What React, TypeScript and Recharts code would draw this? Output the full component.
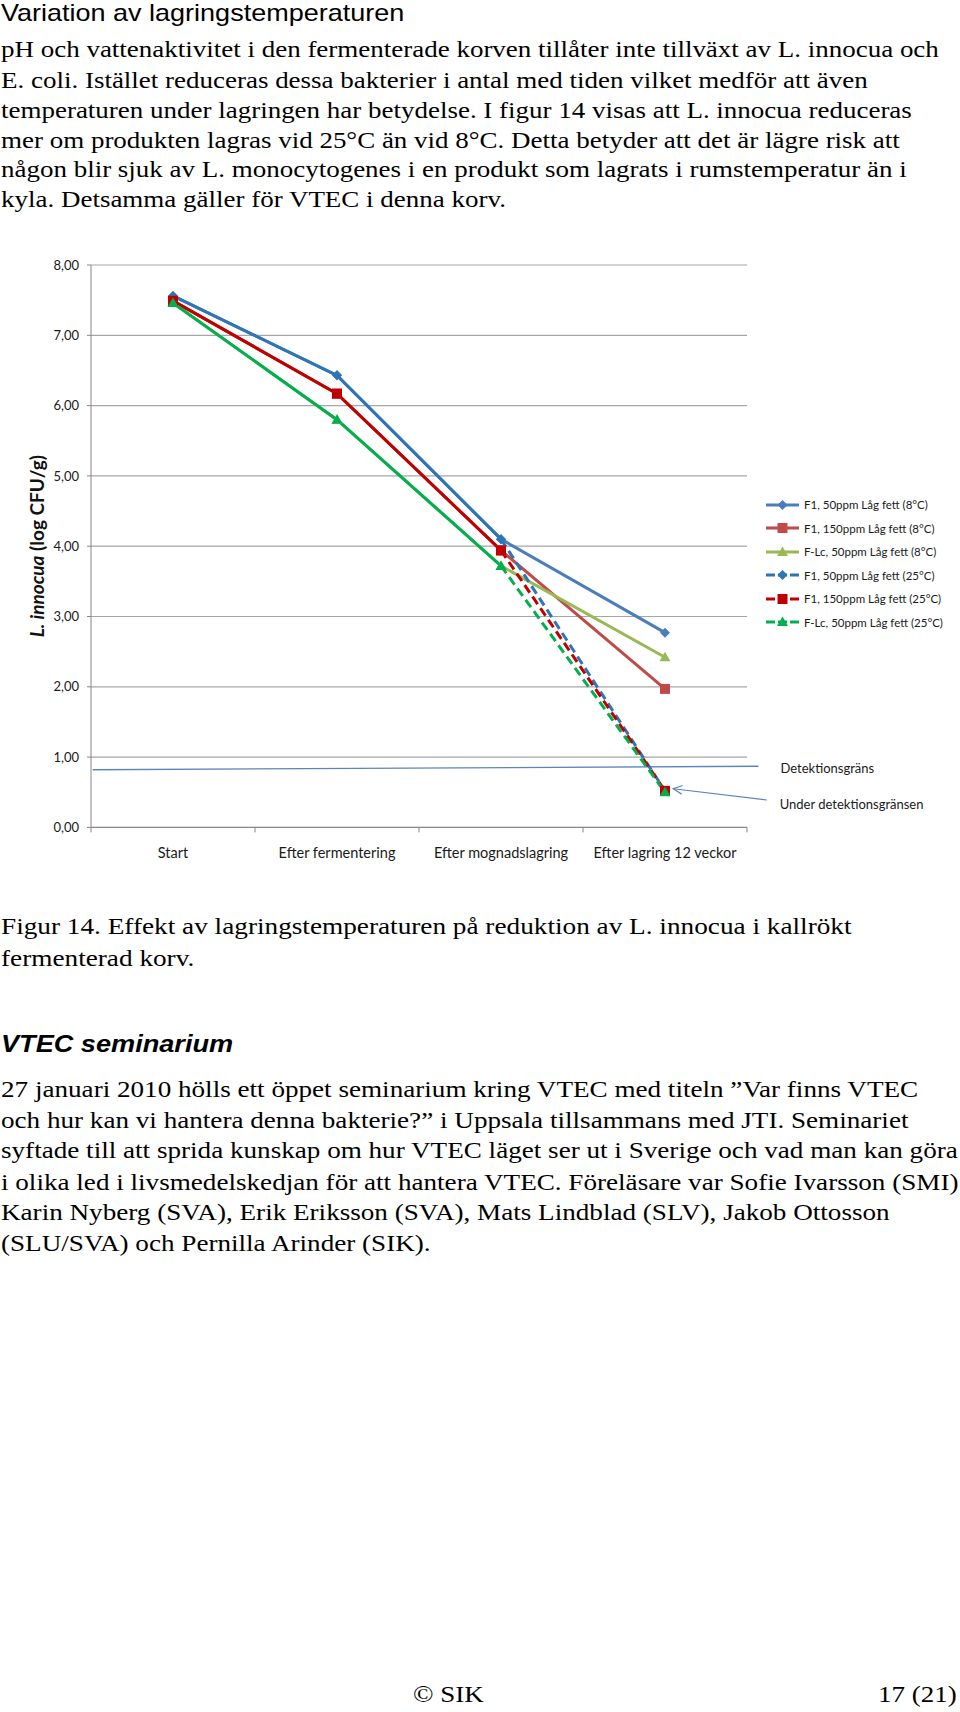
import { LineChart, Line, XAxis, YAxis, CartesianGrid, ReferenceLine, Label } from "recharts";

// categories on the x axis
const categories = ["Start", "Efter fermentering", "Efter mognadslagring", "Efter lagring 12 veckor"];

// L. innocua (log CFU/g), 8°C storage
const f1_50_8 = [7.56, 6.43, 4.1, 2.77];
const f1_150_8 = [7.49, 6.17, 3.94, 1.97];
const flc_50_8 = [7.46, 5.8, 3.72, 2.42];

// same products stored at 25°C
const f1_50_25 = [7.56, 6.43, 4.1, 0.52];
const f1_150_25 = [7.49, 6.17, 3.94, 0.52];
const flc_50_25 = [7.46, 5.8, 3.72, 0.5];

const seriesNames = [
  "F1, 50ppm Låg fett (8°C)",
  "F1, 150ppm Låg fett (8°C)",
  "F-Lc, 50ppm Låg fett (8°C)",
  "F1, 50ppm Låg fett (25°C)",
  "F1, 150ppm Låg fett (25°C)",
  "F-Lc, 50ppm Låg fett (25°C)",
];

const yTicks = [0, 1, 2, 3, 4, 5, 6, 7, 8];

// detection limit line and the arrow to the points below it (data coords)
const detectionLimit = [{ x: 0.01, y: 0.82 }, { x: 4.07, y: 0.87 }];
const belowLimitArrow = [{ x: 4.12, y: 0.39 }, { x: 3.55, y: 0.55 }];

const C = {
  blue8: "#4a7ebb",
  red8: "#be4b48",
  green8: "#98b954",
  blue25: "#2e75b6",
  red25: "#c00000",
  green25: "#00b050",
  axis: "#868686",
  grid: "#a6a6a6",
  note: "#5b85bd",
};

// 25°C: solid up to mognadslagring, dashed for the last storage step
const data = categories.map((name, i) => ({
  x: i + 0.5,
  name,
  a8: f1_50_8[i],
  b8: f1_150_8[i],
  c8: flc_50_8[i],
  a25: i <= 2 ? f1_50_25[i] : null,
  b25: i <= 2 ? f1_150_25[i] : null,
  c25: i <= 2 ? flc_50_25[i] : null,
  a25d: i >= 2 ? f1_50_25[i] : null,
  b25d: i >= 2 ? f1_150_25[i] : null,
  c25d: i >= 2 ? flc_50_25[i] : null,
}));

const chartFont = "Lato, 'Open Sans', sans-serif";

const markerPath = (kind: string, cx: number, cy: number) => {
  if (kind === "diamond") return `M${cx},${cy - 5}L${cx + 5},${cy}L${cx},${cy + 5}L${cx - 5},${cy}Z`;
  if (kind === "square") return `M${cx - 5},${cy - 5}h10v10h-10Z`;
  return `M${cx},${cy - 5.5}L${cx + 5.5},${cy + 4}L${cx - 5.5},${cy + 4}Z`;
};

const makeDot = (kind: string, color: string, onlyLast = false) => (p: any) => {
  if (p.cy == null || p.cx == null || (onlyLast && p.index !== categories.length - 1)) {
    return <g key={`d-${kind}-${p.index}`} />;
  }
  return <path key={`d-${kind}-${p.index}`} d={markerPath(kind, p.cx, p.cy)} fill={color} />;
};

const XTick = (p: any) => {
  const v = p.payload.value;
  if (Number.isInteger(v)) {
    return <line x1={p.x} x2={p.x} y1={p.y} y2={p.y + 5} stroke={C.axis} strokeWidth={1} />;
  }
  return (
    <text x={p.x} y={p.y + 25} textAnchor="middle" dominantBaseline="central" fontSize={14.5} fontFamily={chartFont} fill="#1a1a1a">
      {categories[Math.floor(v)]}
    </text>
  );
};

const YLabel = (p: any) => {
  const vb = p.viewBox || { x: 0, y: 35, width: 91, height: 562 };
  const cx = 36;
  const cy = vb.y + vb.height / 2;
  return (
    <text x={cx} y={cy} transform={`rotate(-90 ${cx} ${cy})`} textAnchor="middle" dominantBaseline="central" fontSize={19} fontWeight="bold" fontFamily={chartFont} fill="#111">
      <tspan fontStyle="italic">L. innocua</tspan>
      <tspan>{" (log CFU/g)"}</tspan>
    </text>
  );
};

const DetectionShape = (p: any) => (
  <g>
    <line x1={p.x1} y1={p.y1} x2={p.x2} y2={p.y2} stroke={C.note} strokeWidth={1.3} />
    <text x={p.x2 + 22} y={p.y2 + 2} dominantBaseline="central" fontSize={13} fontFamily={chartFont} fill="#1a1a1a">
      Detektionsgräns
    </text>
  </g>
);

const ArrowShape = (p: any) => {
  const ang = Math.atan2(p.y2 - p.y1, p.x2 - p.x1);
  const len = 10;
  const wing = 0.45;
  const ax = p.x2 - len * Math.cos(ang - wing);
  const ay = p.y2 - len * Math.sin(ang - wing);
  const bx = p.x2 - len * Math.cos(ang + wing);
  const by = p.y2 - len * Math.sin(ang + wing);
  return (
    <g>
      <line x1={p.x1} y1={p.y1} x2={p.x2} y2={p.y2} stroke={C.note} strokeWidth={1.2} />
      <polyline points={`${ax},${ay} ${p.x2},${p.y2} ${bx},${by}`} fill="none" stroke={C.note} strokeWidth={1.2} />
      <text x={p.x1 + 13} y={p.y1 + 4} dominantBaseline="central" fontSize={13} fontFamily={chartFont} fill="#1a1a1a">
        Under detektionsgränsen
      </text>
    </g>
  );
};

const legendStyle = [
  { color: C.blue8, kind: "diamond", dashed: false },
  { color: C.red8, kind: "square", dashed: false },
  { color: C.green8, kind: "triangle", dashed: false },
  { color: C.blue25, kind: "diamond", dashed: true },
  { color: C.red25, kind: "square", dashed: true },
  { color: C.green25, kind: "triangle", dashed: true },
];

const LegendBox = () => (
  <div style={{ position: "absolute", left: 765, top: 493, fontFamily: chartFont, fontSize: 11.5, color: "#1a1a1a" }}>
    {seriesNames.map((n, i) => {
      const s = legendStyle[i];
      return (
        <div key={n} style={{ display: "flex", alignItems: "center", height: 23.5, whiteSpace: "nowrap" }}>
          <svg width={36} height={14} style={{ marginRight: 3 }}>
            <line x1={1} y1={7} x2={34} y2={7} stroke={s.color} strokeWidth={3} strokeDasharray={s.dashed ? "9 3" : undefined} />
            <path d={markerPath(s.kind, 17.5, 7)} fill={s.color} />
          </svg>
          <span>{n}</span>
        </div>
      );
    })}
  </div>
);

const fmt = (v: number) => v.toFixed(2).replace(".", ",");

const serif = "'Liberation Serif', 'Times New Roman', serif";
const sans = "'Liberation Sans', Arial, sans-serif";

const para1 = [
  "pH och vattenaktivitet i den fermenterade korven tillåter inte tillväxt av L. innocua och",
  "E. coli. Istället reduceras dessa bakterier i antal med tiden vilket medför att även",
  "temperaturen under lagringen har betydelse. I figur 14 visas att L. innocua reduceras",
  "mer om produkten lagras vid 25°C än vid 8°C. Detta betyder att det är lägre risk att",
  "någon blir sjuk av L. monocytogenes i en produkt som lagrats i rumstemperatur än i",
  "kyla. Detsamma gäller för VTEC i denna korv.",
];
const para1Y = [48.5, 80, 110, 139.5, 169, 198.5];

const caption = [
  "Figur 14. Effekt av lagringstemperaturen på reduktion av L. innocua i kallrökt",
  "fermenterad korv.",
];
const captionY = [926, 958];

const para2 = [
  "27 januari 2010 hölls ett öppet seminarium kring VTEC med titeln ”Var finns VTEC",
  "och hur kan vi hantera denna bakterie?” i Uppsala tillsammans med JTI. Seminariet",
  "syftade till att sprida kunskap om hur VTEC läget ser ut i Sverige och vad man kan göra",
  "i olika led i livsmedelskedjan för att hantera VTEC. Föreläsare var Sofie Ivarsson (SMI)",
  "Karin Nyberg (SVA), Erik Eriksson (SVA), Mats Lindblad (SLV), Jakob Ottosson",
  "(SLU/SVA) och Pernilla Arinder (SIK).",
];
const para2Y = [1089, 1120, 1150, 1182, 1212, 1243];

const lineStyle = (y: number, sx = 1.124, extra: any = {}) => ({
  position: "absolute" as const,
  left: 1,
  top: y - 15,
  height: 30,
  lineHeight: "30px",
  whiteSpace: "nowrap" as const,
  fontFamily: serif,
  fontSize: 24,
  color: "#000",
  transform: `scaleX(${sx})`,
  transformOrigin: "left center",
  ...extra,
});

export default function App() {
  return (
    <div style={{ position: "absolute", left: 0, top: 0, width: 960, height: 1712, background: "#fff", overflow: "hidden" }}>
      <div style={{ position: "absolute", left: 1, top: 0, height: 26, lineHeight: "26px", fontFamily: sans, fontSize: 24, whiteSpace: "nowrap", transform: "scaleX(1.125)", transformOrigin: "left center" }}>
        Variation av lagringstemperaturen
      </div>
      {para1.map((t, i) => (
        <div key={t} style={lineStyle(para1Y[i])}>{t}</div>
      ))}

      <div style={{ position: "absolute", left: 0, top: 230 }}>
        <LineChart width={960} height={640} data={data} margin={{ top: 35, right: 213, bottom: 2.6, left: 0 }}>
          <CartesianGrid vertical={false} stroke={C.grid} strokeWidth={1.2} />
          <XAxis
            dataKey="x"
            type="number"
            domain={[0, 4]}
            ticks={[0, 0.5, 1, 1.5, 2, 2.5, 3, 3.5, 4]}
            interval={0}
            tick={<XTick />}
            tickLine={false}
            tickSize={0}
            tickMargin={0}
            height={40}
            stroke={C.axis}
            allowDataOverflow
          />
          <YAxis
            type="number"
            domain={[0, 8]}
            ticks={yTicks}
            interval={0}
            width={91}
            tickSize={4}
            tickMargin={8}
            tickFormatter={fmt}
            stroke={C.axis}
            tick={{ fill: "#1a1a1a", fontSize: 13, fontFamily: chartFont }}
          >
            <Label content={<YLabel />} />
          </YAxis>

          <ReferenceLine segment={detectionLimit} ifOverflow="visible" shape={<DetectionShape />} />
          <ReferenceLine segment={belowLimitArrow} ifOverflow="visible" shape={<ArrowShape />} />

          <Line dataKey="a8" stroke={C.blue8} strokeWidth={3} dot={makeDot("diamond", C.blue8)} activeDot={false} isAnimationActive={false} />
          <Line dataKey="b8" stroke={C.red8} strokeWidth={3} dot={makeDot("square", C.red8)} activeDot={false} isAnimationActive={false} />
          <Line dataKey="c8" stroke={C.green8} strokeWidth={3} dot={makeDot("triangle", C.green8)} activeDot={false} isAnimationActive={false} />

          <Line dataKey="a25" stroke={C.blue25} strokeWidth={3} dot={makeDot("diamond", C.blue25)} activeDot={false} isAnimationActive={false} />
          <Line dataKey="b25" stroke={C.red25} strokeWidth={3} dot={makeDot("square", C.red25)} activeDot={false} isAnimationActive={false} />
          <Line dataKey="c25" stroke={C.green25} strokeWidth={3} dot={makeDot("triangle", C.green25)} activeDot={false} isAnimationActive={false} />

          <Line dataKey="a25d" stroke={C.blue25} strokeWidth={3} strokeDasharray="9 5" dot={makeDot("diamond", C.blue25, true)} activeDot={false} isAnimationActive={false} />
          <Line dataKey="b25d" stroke={C.red25} strokeWidth={3} strokeDasharray="9 5" dot={makeDot("square", C.red25, true)} activeDot={false} isAnimationActive={false} />
          <Line dataKey="c25d" stroke={C.green25} strokeWidth={3} strokeDasharray="9 5" dot={makeDot("triangle", C.green25, true)} activeDot={false} isAnimationActive={false} />
        </LineChart>
      </div>
      <LegendBox />

      {caption.map((t, i) => (
        <div key={t} style={lineStyle(captionY[i], 1.135)}>{t}</div>
      ))}

      <div style={{ position: "absolute", left: 1, top: 1029, lineHeight: "30px", fontFamily: sans, fontSize: 24, fontWeight: "bold", fontStyle: "italic", whiteSpace: "nowrap", transform: "scaleX(1.13)", transformOrigin: "left center" }}>
        VTEC seminarium
      </div>
      {para2.map((t, i) => (
        <div key={t} style={lineStyle(para2Y[i], 1.13)}>{t}</div>
      ))}

      <div style={lineStyle(1694, 1.124, { left: 413 })}>© SIK</div>
      <div style={lineStyle(1694, 1.124, { left: 878 })}>17 (21)</div>
    </div>
  );
}
